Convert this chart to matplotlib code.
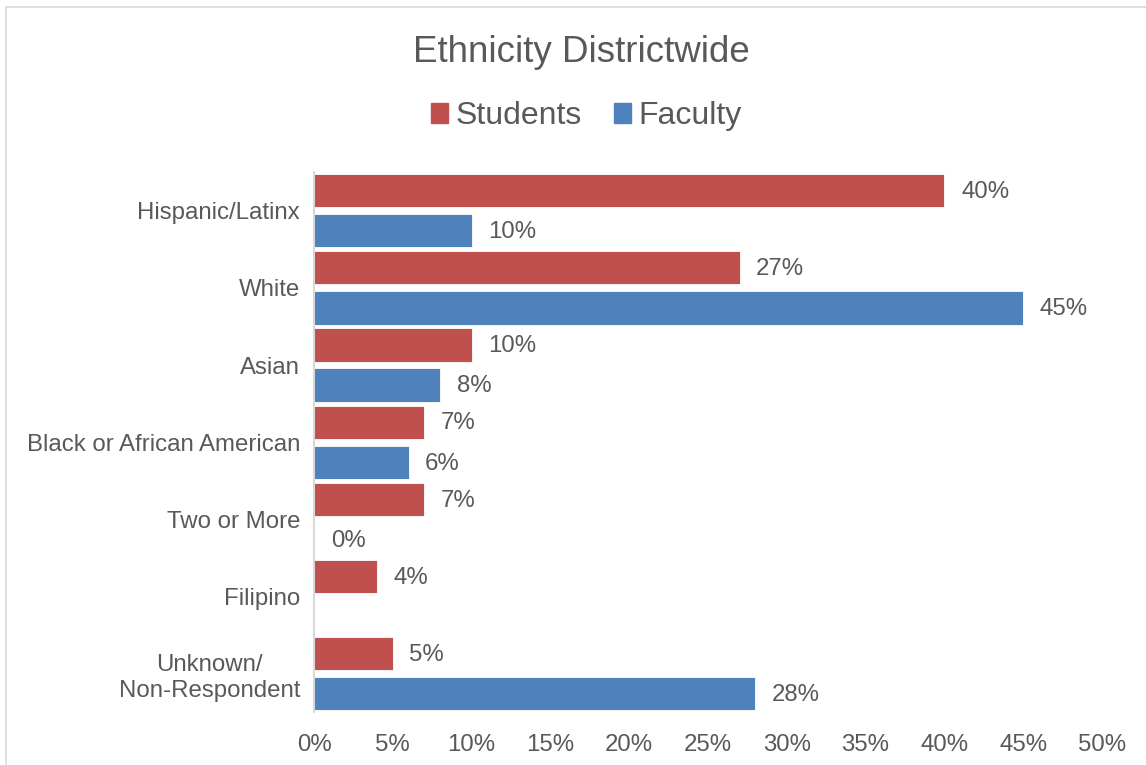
import matplotlib.pyplot as plt
from matplotlib.patches import Patch
from matplotlib.lines import Line2D
import numpy as np

plt.rcParams['font.family'] = ['Liberation Sans', 'DejaVu Sans']

categories = ['Hispanic/Latinx', 'White', 'Asian', 'Black or African American',
              'Two or More', 'Filipino', 'Unknown/\nNon-Respondent']
students = [40, 27, 10, 7, 7, 4, 5]
faculty = [10, 45, 8, 6, 0, None, 28]
xticks = [0, 5, 10, 15, 20, 25, 30, 35, 40, 45, 50]

red = '#C0504D'
blue = '#4F81BD'
grey = '#595959'

fig = plt.figure(figsize=(11.46, 7.65), dpi=100)
ax = fig.add_axes([0.274, 0.069, 0.6876, 0.706])

y = np.arange(len(categories))
h = 0.43
off = 0.26
ax.barh(y - off, students, height=h, color=red, edgecolor='white', linewidth=0.6)
fac_vals = [v if v is not None else 0 for v in faculty]
ax.barh(y + off, fac_vals, height=h, color=blue, edgecolor='white', linewidth=0.6)

# data labels, Filipino faculty has no value so no label
for i, v in enumerate(students):
    ax.annotate(f'{v}%', (v, i - off), xytext=(12, -1), textcoords='offset points',
                ha='left', va='center', fontsize=17.3, color=grey)
for i, v in enumerate(faculty):
    if v is None:
        continue
    ax.annotate(f'{v}%', (v, i + off), xytext=(12, -1), textcoords='offset points',
                ha='left', va='center', fontsize=17.3, color=grey)

ax.set_xlim(0, 50)
ax.set_ylim(6.5, -0.5)
ax.set_xticks(xticks)
ax.set_xticklabels([f'{t}%' for t in xticks])
ax.set_yticks(y)
ax.set_yticklabels(categories, multialignment='center')
ax.tick_params(axis='both', length=0, labelsize=17.3, labelcolor=grey)
ax.tick_params(axis='x', pad=16)
ax.tick_params(axis='y', pad=10)
for s in ['top', 'right', 'bottom']:
    ax.spines[s].set_visible(False)
ax.spines['left'].set_color('#D9D9D9')
ax.spines['left'].set_linewidth(1.5)

fig.text(0.507, 0.932, 'Ethnicity Districtwide', ha='center', va='center',
         fontsize=26.5, color=grey)

handles = [Patch(color=red, label='Students'), Patch(color=blue, label='Faculty')]
fig.legend(handles=handles, loc='center', bbox_to_anchor=(0.5115, 0.848), ncol=2,
           frameon=False, fontsize=23, handlelength=0.55, handleheight=0.55,
           handletextpad=0.22, columnspacing=1.0, labelcolor=grey)

# chart area border (cropped)
fig.add_artist(Line2D([6 / 1146, 6 / 1146], [0, 1 - 7 / 765], transform=fig.transFigure,
                      color='#D9D9D9', linewidth=1.2))
fig.add_artist(Line2D([6 / 1146, 1], [1 - 7 / 765, 1 - 7 / 765], transform=fig.transFigure,
                      color='#D9D9D9', linewidth=1.2))

fig.savefig('out.png', dpi=100)
